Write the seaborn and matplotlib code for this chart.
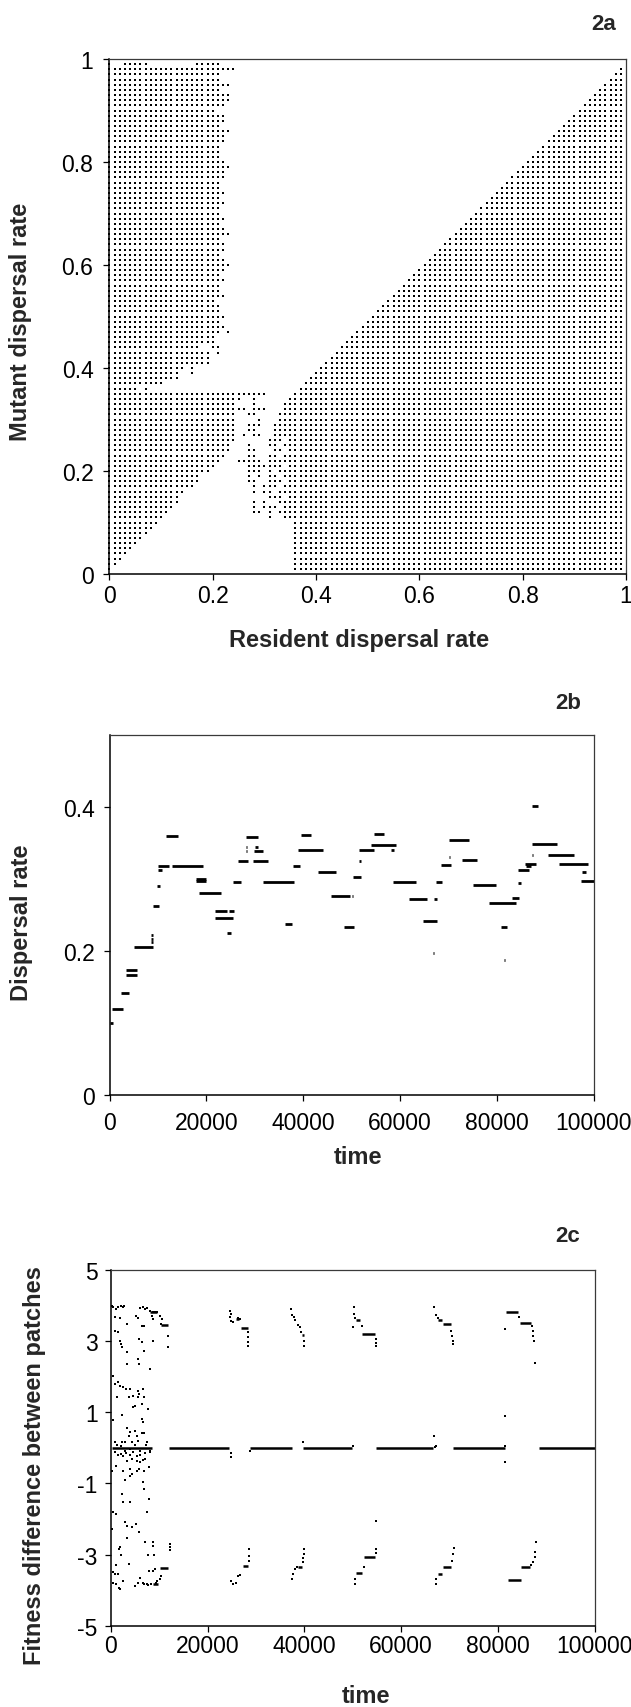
import numpy as np
import pandas as pd
import matplotlib
matplotlib.use("Agg")
import matplotlib.pyplot as plt
import seaborn as sns

sns.set_theme(style="ticks")
plt.rcParams['font.family'] = ['Liberation Sans', 'DejaVu Sans']
TICK_FAMILY = ['Liberation Sans Narrow', 'Liberation Sans', 'DejaVu Sans']

# ---------------- Fig. 2a: pairwise invasibility plot ----------------
# strategy lattice 0.00 .. 0.99, step 0.01 (resident columns, mutant rows)
lattice_step = 0.01

# rows 36..99: last resident column of the left block (mutant invades)
upper_left_rows = list(range(36, 100))
upper_left_edge = [5, 10, 13, 13, 14, 19, 19, 21, 21, 20, 20, 21, 22, 21, 22, 21, 21, 20,
                   22, 21, 21, 22, 21, 22, 23, 22, 21, 22, 22, 21, 23, 22, 21, 22, 21, 21, 22,
                   21, 22, 21, 21, 22, 22, 23, 22, 21, 21, 21, 22, 22, 23, 21, 22, 22, 20, 22,
                   23, 23, 21, 23, 21, 21, 24, 21]

# rows 1..35: last column of the lower-left block, first column of the lower-right block
lower_rows = list(range(1, 36))
lower_left_edge = [0, 1, 2, 3, 4, 5, 6, 7, 8, 9, 10, 11, 12, 13, 13, 14, 16, 17, 17, 19,
                   20, 21, 22, 23, 23, 24, 24, 24, 24, 24, 24, 24, 24, 25, 30]
lower_right_start = [36, 36, 36, 36, 36, 36, 36, 36, 36, 36, 31, 28, 28, 30, 31, 30, 30,
                     31, 31, 31, 31, 27, 31, 32, 32, 32, 32, 32, 32, 33, 33, 34, 34, 35, 36]

# isolated invasible points around the singular strategy
extra_res = [0.16, 0.16, 0.07, 0.23, 0.21,
             0.31, 0.29, 0.33, 0.28, 0.31, 0.28, 0.28, 0.27, 0.28, 0.27, 0.29, 0.27, 0.28,
             0.29, 0.27, 0.28, 0.29, 0.30, 0.25, 0.26, 0.27, 0.28, 0.27, 0.28, 0.27, 0.31,
             0.31, 0.26, 0.28, 0.29, 0.27, 0.28, 0.27, 0.28, 0.29, 0.29, 0.27, 0.28, 0.28,
             0.29, 0.30, 0.28, 0.28, 0.26, 0.25, 0.26]
extra_mut = [0.40, 0.39, 0.36, 0.47, 0.44,
             0.11, 0.12, 0.12, 0.14, 0.15, 0.16, 0.17, 0.18, 0.18, 0.19, 0.19, 0.20, 0.20,
             0.20, 0.21, 0.21, 0.21, 0.21, 0.22, 0.22, 0.23, 0.23, 0.24, 0.24, 0.25, 0.25,
             0.26, 0.27, 0.27, 0.27, 0.28, 0.28, 0.29, 0.29, 0.29, 0.30, 0.31, 0.31, 0.32,
             0.32, 0.32, 0.33, 0.34, 0.32, 0.32, 0.27]

# non-invasible gaps inside the filled blocks
hole_res = [0.01, 0.02, 0.08, 0.09, 0.10, 0.11, 0.12, 0.13, 0.14, 0.15, 0.16, 0.18, 0.19,
            0.20, 0.32, 0.33, 0.30, 0.32, 0.29, 0.33, 0.31, 0.32, 0.34, 0.32, 0.33, 0.34,
            0.33, 0.32, 0.34, 0.30, 0.33, 0.34, 0.33, 0.34]
hole_mut = [0.99, 0.99, 0.99, 0.99, 0.99, 0.99, 0.99, 0.99, 0.99, 0.99, 0.99, 0.44, 0.44,
            0.43, 0.11, 0.11, 0.12, 0.12, 0.13, 0.13, 0.14, 0.14, 0.15, 0.16, 0.17, 0.18,
            0.19, 0.20, 0.21, 0.22, 0.23, 0.24, 0.25, 0.26]

# ---------------- Fig. 2b: evolving dispersal rate ----------------
b_t0 = [0, 450, 2400, 3400, 3400, 5100, 8600, 8500, 8600, 8900, 9900, 10100, 10100,
        11600, 12900, 17800, 17800, 18500, 21800, 24700, 21800, 24200, 25500, 26600,
        28300, 28200, 28200, 30000, 29800, 29600, 31700, 36200, 37900, 39600, 38900,
        43000, 45800, 50100, 48500, 50300, 51500, 51600, 54700, 54000, 58200, 58500,
        61800, 67100, 64700, 66900, 67400, 68500, 70100, 70200, 72900, 75000, 78400,
        80900, 81600, 83100, 84300, 84500, 85900, 86000, 87300, 87300, 87300, 90500,
        92800, 97600, 97400]
b_t1 = [800, 2700, 4100, 5700, 5700, 8900, 9000, 8900, 8900, 10200, 10500, 12300, 10900,
        14100, 19300, 20000, 20000, 23100, 24200, 25800, 25500, 25200, 27200, 28600,
        30700, 28400, 28400, 30700, 31700, 32700, 38200, 37700, 39300, 41700, 44100,
        46800, 49600, 50400, 50600, 52000, 51900, 54700, 56700, 59200, 58700, 63300,
        65700, 67600, 67600, 67100, 68700, 70500, 70300, 74300, 76000, 79800, 84000,
        82200, 81800, 84600, 85000, 86600, 88100, 87000, 87500, 88600, 92500, 96000,
        98800, 98400, 100000]
b_rate = [0.100, 0.119, 0.142, 0.173, 0.167, 0.205, 0.222, 0.217, 0.212, 0.262, 0.290,
          0.318, 0.312, 0.360, 0.318, 0.300, 0.297, 0.281, 0.256, 0.256, 0.246, 0.225,
          0.296, 0.325, 0.358, 0.345, 0.339, 0.345, 0.339, 0.325, 0.296, 0.237, 0.318,
          0.361, 0.340, 0.310, 0.276, 0.276, 0.234, 0.303, 0.325, 0.340, 0.363, 0.347,
          0.340, 0.296, 0.272, 0.272, 0.242, 0.197, 0.296, 0.319, 0.330, 0.354, 0.326,
          0.291, 0.266, 0.233, 0.188, 0.273, 0.294, 0.313, 0.321, 0.318, 0.334, 0.401,
          0.348, 0.334, 0.321, 0.310, 0.297]

# ---------------- Fig. 2c: fitness difference between patches ----------------
c_run_t0 = [200, 12050, 28700, 39700, 54900, 70700, 88500,
            8100, 10400, 25800, 26900, 39500, 50700, 52000, 67700, 68600, 81700, 84600,
            8800, 10200, 27300, 38700, 50700, 52400, 67600, 68600, 82000, 84800]
c_run_t1 = [8500, 24500, 37400, 49900, 66500, 81500, 100000,
            9600, 11900, 26600, 28300, 39900, 51500, 54500, 68400, 70300, 84200, 86900,
            9700, 11900, 28300, 39500, 52000, 54500, 68400, 70300, 84800, 86700]
c_run_v = [0.0, 0.0, 0.0, 0.0, 0.0, 0.0, 0.0,
           3.82, 3.45, 3.63, 3.36, 3.18, 3.60, 3.20, 3.60, 3.47, 3.80, 3.50,
           -3.82, -3.38, -3.31, -3.35, -3.51, -3.07, -3.54, -3.35, -3.70, -3.35]

c_pt_t = [100, 200, 550, 1100, 1600, 2100, 2500, 2800, 900, 1900, 3300, 5200, 5700, 6100,
          6600, 7100, 7600, 8100, 8700, 9200, 9600, 10200, 10500, 8500, 8800, 6400, 6800,
          10300, 11900, 11900, 900, 1600, 1900, 2100, 2300, 5900, 6400, 8800, 3300, 6800,
          5700, 5900, 3300, 8100,
          550, 900, 1600, 1900, 2600, 3200, 3900, 1200, 3700, 4700, 5700, 6600, 5900, 5700,
          6900, 5000, 4700, 6400, 7800, 550, 2300, 6400, 6600, 3300, 4000, 5000, 3700, 5400,
          6400, 6900, 5700, 4300, 7400, 2300, 3000, 900,
          1200, 2100, 3000, 4000, 5000, 6100, 7300, 8100,
          900, 1600, 2100, 2600, 3200, 4000, 4700, 5400, 6100, 7100, 8100, 1100, 3300, 4300,
          5500, 6100, 6600, 7100, 200, 2600, 3900, 5400, 5900, 6800, 8000, 3000, 4000, 4500,
          6600, 6800, 2300, 2600, 3900, 8000, 7600, 550, 1100, 3000, 3400, 4300, 5200, 5900,
          200, 3300, 1900, 2100, 7100, 8800, 8800, 1800, 7800, 9000, 3700, 1100, 550, 900,
          1600, 8000, 8800, 9200, 12250, 12250, 12250, 550, 1100, 1800, 1900, 2500, 5000,
          5700, 6100, 6600, 6900, 7400, 7800, 8300, 9400, 9600, 10100, 10300,
          24700, 24900, 24700, 24900, 25200, 26200, 26700, 28300, 28300, 28300, 28300,
          24900, 24900, 28850,
          24900, 25200, 25800, 26200, 26800, 28500, 28500, 28500,
          37200, 37400, 37800, 38100, 38700, 39100, 39300, 39900, 39900,
          37400, 37700, 38000, 38500, 39700, 39700, 39900, 39900, 39700,
          50300, 50300, 50500, 50100, 52000, 54900, 54900, 54900, 50100,
          50500, 50500, 52400, 54900, 54900, 54900,
          66750, 67100, 67600, 70300, 70400, 70700, 70700, 66750, 67000, 67300,
          67300, 67300, 70400, 70700, 70900,
          81500, 84400, 87000, 87300, 87300, 87500, 87700, 81500, 81500, 81500,
          86900, 87300, 87700, 87700, 87900]
c_pt_v = [3.99, 3.99, 3.94, 3.90, 3.94, 3.99, 3.94, 3.99, 3.66, 3.64, 3.48, 3.71, 3.64, 3.92,
          3.94, 3.90, 3.92, 3.85, 3.82, 3.80, 3.82, 3.71, 3.62, 3.71, 3.62, 3.43, 3.43,
          3.48, 3.15, 2.82, 3.29, 3.24, 3.01, 2.92, 2.82, 3.05, 2.96, 3.01, 2.68, 2.73,
          2.49, 2.35, 2.35, 2.21,
          2.03, 1.79, 1.84, 1.74, 1.70, 1.65, 1.65, 1.42, 1.42, 1.46, 1.60, 1.65, 1.51, 1.42,
          1.42, 1.18, 1.14, 1.23, 1.09, 0.79, 0.92, 0.81, 0.72, 0.55, 0.44, 0.48, 0.34, 0.34,
          0.42, 0.42, 0.20, 0.16, 0.16, 0.16, 0.16, 0.16,
          0.08, 0.04, -0.08, -0.03, 0.07, -0.08, 0.07, -0.08,
          -0.13, -0.20, -0.17, -0.24, -0.15, -0.20, -0.13, -0.22, -0.20, -0.15, -0.13, -0.50,
          -0.36, -0.31, -0.36, -0.39, -0.33, -0.31, -0.64, -0.64, -0.58, -0.64, -0.58, -0.64,
          -0.55, -0.89, -0.78, -0.73, -0.97, -1.16, -1.30, -1.53, -1.51, -1.44, -1.81, -1.81,
          -1.86, -2.09, -2.18, -2.23, -2.14, -2.37, -2.28, -2.54, -2.79, -3.02, -2.65, -2.65,
          -2.76, -2.84, -3.02, -3.02, -3.26, -3.30, -3.49, -3.54, -3.54, -3.45, -3.45, -3.40,
          -2.70, -2.79, -2.88, -3.78, -3.83, -3.92, -3.96, -3.73, -3.87, -3.78, -3.64, -3.78,
          -3.83, -3.81, -3.85, -3.83, -3.78, -3.73, -3.69, -3.59,
          3.85, 3.76, 3.66, 3.57, 3.52, 3.64, 3.62, 3.24, 3.10, 2.96, 2.87,
          -0.14, -0.25, -0.09,
          -3.73, -3.82, -3.78, -3.59, -3.57, -3.17, -3.03, -2.84,
          3.90, 3.73, 3.66, 3.60, 3.45, 3.38, 3.24, 3.01, 2.87,
          -3.68, -3.54, -3.40, -3.35, -3.21, -3.10, -2.98, -2.84, 0.17,
          3.95, 3.76, 3.64, 3.38, 3.43, 3.05, 2.94, 2.85, 0.06,
          -3.82, -3.68, -3.35, -2.95, -2.84, -2.04,
          3.95, 3.73, 3.64, 3.29, 3.15, 3.01, 2.92, 0.34, 0.03, 0.05,
          -3.82, -3.68, -3.17, -2.98, -2.82,
          3.34, 3.66, 3.43, 3.29, 3.15, 3.01, 2.38, 0.90, -0.41, 0.04,
          -3.29, -3.19, -3.07, -2.93, -2.65]

# ---------------- layout helpers (pixel boxes on a 631 x 1708 canvas) ----------------
W, H = 631, 1708
fig = plt.figure(figsize=(W / 100, H / 100), dpi=100)


def add_axes(x0, y0, x1, y1):
    return fig.add_axes([x0 / W, 1 - y1 / H, (x1 - x0) / W, (y1 - y0) / H])


def fig_text(x, y, s, **kw):
    fig.text(x / W, 1 - y / H, s, ha='center', va='center', **kw)


TICK_FS = 16.5
LABEL_FS = 17
PANEL_FS = 16


def style_axes(ax, xpad, ypad):
    ax.grid(False)
    for side in ('left', 'bottom'):
        ax.spines[side].set_color('black')
        ax.spines[side].set_linewidth(1.1)
    for side in ('top', 'right'):
        ax.spines[side].set_visible(True)
        ax.spines[side].set_color('#3a3a3a')
        ax.spines[side].set_linewidth(0.9)
    ax.tick_params(axis='both', direction='out', length=4.5, width=0.9, color='black',
                   labelcolor='black', top=False, right=False)
    ax.tick_params(axis='x', pad=xpad)
    ax.tick_params(axis='y', pad=ypad)
    for lab in ax.get_xticklabels() + ax.get_yticklabels():
        lab.set_fontfamily(TICK_FAMILY)
        lab.set_fontsize(TICK_FS)
    ax.set_xlabel('')
    ax.set_ylabel('')


# ---------------- panel a ----------------
grid = np.zeros((100, 100), dtype=bool)          # [mutant row, resident column]
for j, e in zip(upper_left_rows, upper_left_edge):
    grid[j, :e + 1] = True
for j, e in zip(lower_rows, lower_left_edge):
    grid[j, :e + 1] = True
for j, s in zip(lower_rows, lower_right_start):
    grid[j, s:] = True
for j in range(36, 100):                          # mutant slower than resident
    grid[j, j + 1:] = True
for r, m in zip(extra_res, extra_mut):
    grid[int(round(m / lattice_step)), int(round(r / lattice_step))] = True
for r, m in zip(hole_res, hole_mut):
    grid[int(round(m / lattice_step)), int(round(r / lattice_step))] = False

rows, cols = np.nonzero(grid)
pip = pd.DataFrame({'resident': cols * lattice_step, 'mutant': rows * lattice_step})

ax_a = add_axes(109.4, 60, 626, 575)
sns.scatterplot(data=pip, x='resident', y='mutant', ax=ax_a, marker='s', s=3.4,
                color='black', linewidth=0, legend=False, clip_on=False,
                antialiased=False)
ax_a.set_xlim(0, 1)
ax_a.set_ylim(0, 1)
ticks_a = [0, 0.2, 0.4, 0.6, 0.8, 1]
labels_a = ['0', '0.2', '0.4', '0.6', '0.8', '1']
ax_a.set_xticks(ticks_a)
ax_a.set_xticklabels(labels_a)
ax_a.set_yticks(ticks_a)
ax_a.set_yticklabels(labels_a)
style_axes(ax_a, xpad=2.5, ypad=7)

fig_text(604, 24, '2a', fontsize=PANEL_FS, fontweight='bold')
fig_text(359, 641, 'Resident dispersal rate', fontsize=LABEL_FS, fontweight='bold')
fig_text(21, 322, 'Mutant dispersal rate', fontsize=LABEL_FS, fontweight='bold',
         rotation=90)

# ---------------- panel b ----------------
seg_rows = []
for k, (t0, t1, v) in enumerate(zip(b_t0, b_t1, b_rate)):
    seg_rows.append((k, t0, v))
    seg_rows.append((k, t1, v))
segs_b = pd.DataFrame(seg_rows, columns=['segment', 'time', 'rate'])

ax_b = add_axes(109.5, 736, 593.5, 1096)
sns.lineplot(data=segs_b, x='time', y='rate', units='segment', estimator=None,
             sort=False, color='black', linewidth=2.0, ax=ax_b, legend=False,
             solid_capstyle='butt')
ax_b.set_xlim(0, 100000)
ax_b.set_ylim(0, 0.5)
ax_b.set_xticks([0, 20000, 40000, 60000, 80000, 100000])
ax_b.set_xticklabels(['0', '20000', '40000', '60000', '80000', '100000'])
ax_b.set_yticks([0, 0.2, 0.4])
ax_b.set_yticklabels(['0', '0.2', '0.4'])
style_axes(ax_b, xpad=7, ypad=6)

fig_text(568, 704, '2b', fontsize=PANEL_FS, fontweight='bold')
fig_text(358, 1157, 'time', fontsize=LABEL_FS, fontweight='bold')
fig_text(22, 923, 'Dispersal rate', fontsize=LABEL_FS, fontweight='bold', rotation=90)

# ---------------- panel c ----------------
run_rows = []
for k, (t0, t1, v) in enumerate(zip(c_run_t0, c_run_t1, c_run_v)):
    run_rows.append((k, t0, v))
    run_rows.append((k, t1, v))
runs_c = pd.DataFrame(run_rows, columns=['run', 'time', 'diff'])
pts_c = pd.DataFrame({'time': c_pt_t, 'diff': c_pt_v})

ax_c = add_axes(110.7, 1270.7, 594.8, 1627)
sns.lineplot(data=runs_c, x='time', y='diff', units='run', estimator=None, sort=False,
             color='black', linewidth=1.8, ax=ax_c, legend=False, solid_capstyle='butt')
sns.scatterplot(data=pts_c, x='time', y='diff', ax=ax_c, marker='s', s=3.4,
                color='black', linewidth=0, legend=False, antialiased=False)
ax_c.set_xlim(0, 100000)
ax_c.set_ylim(-5, 5)
ax_c.set_xticks([0, 20000, 40000, 60000, 80000, 100000])
ax_c.set_xticklabels(['0', '20000', '40000', '60000', '80000', '100000'])
ax_c.set_yticks([5, 3, 1, -1, -3, -5])
ax_c.set_yticklabels(['5', '3', '1', '-1', '-3', '-5'])
style_axes(ax_c, xpad=1.5, ypad=5)

fig_text(568, 1237, '2c', fontsize=PANEL_FS, fontweight='bold')
fig_text(366, 1697, 'time', fontsize=LABEL_FS, fontweight='bold')
fig_text(35, 1466, 'Fitness difference between patches', fontsize=LABEL_FS,
         fontweight='bold', rotation=90)

fig.savefig('out.png', dpi=100, facecolor='white')
